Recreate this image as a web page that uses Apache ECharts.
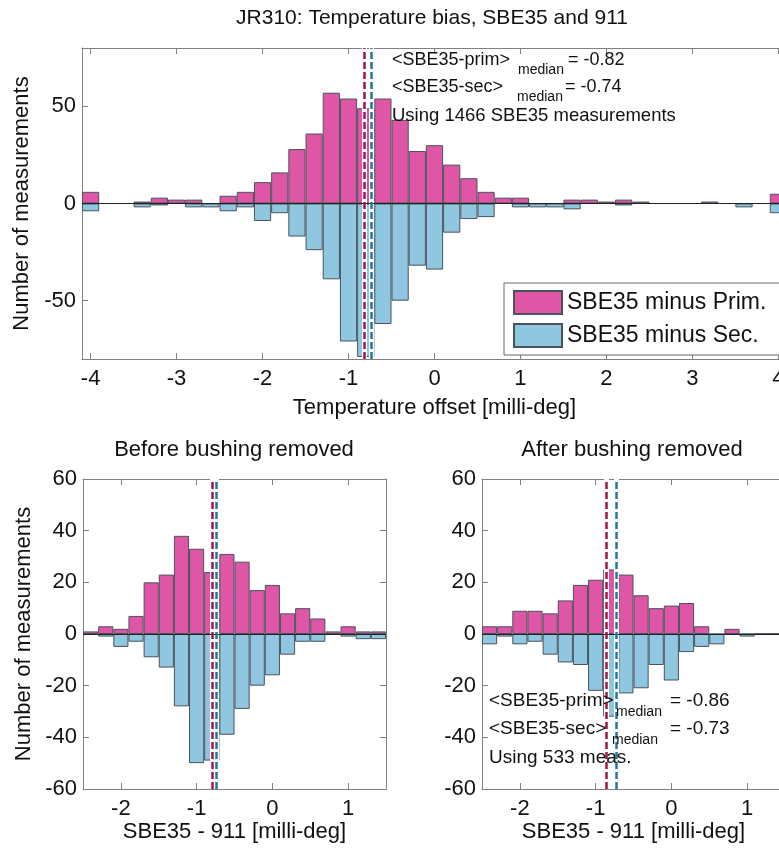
<!DOCTYPE html>
<html>
<head>
<meta charset="utf-8">
<title>JR310 temperature bias</title>
<script src="https://cdn.jsdelivr.net/npm/echarts@6/dist/echarts.min.js"></script>
<style>
  html, body { margin: 0; padding: 0; background: #fff; }
  #chart { width: 779px; height: 852px; }
</style>
</head>
<body>
<div id="chart"></div>
<script>
// top histogram: all stations, bin centres every 0.2 milli-deg
const topBins = [-4.0, -3.8, -3.6, -3.4, -3.2, -3.0, -2.8, -2.6, -2.4, -2.2, -2.0, -1.8, -1.6, -1.4, -1.2, -1.0, -0.8, -0.6, -0.4, -0.2,
  0.0, 0.2, 0.4, 0.6, 0.8, 1.0, 1.2, 1.4, 1.6, 1.8, 2.0, 2.2, 2.4, 2.6, 2.8, 3.0, 3.2, 3.4, 3.6, 3.8, 4.0]
const topPrim = [6, 0, 0, 1, 3, 2, 2, 0, 4, 6, 11, 16, 28, 36, 57, 54, 49, 54, 43, 27,
  30, 20, 13, 6, 3, 3, 0, 0, 2, 2, 1, 2, 1, 0, 0, 0, 1, 0, 0, 0, 5]
const topSec = [-4, 0, 0, -2, -1, 0, -2, -2, -4, -2, -9, -5, -17, -24, -39, -71, -79, -62, -50, -32,
  -34, -15, -8, -7, 0, -2, -2, -2, -3, 0, 0, -1, 0, 0, 0, 0, 0, 0, -2, 0, -5]
const topMedian = [-0.82, -0.74]

// bottom histograms
const subBins = [-2.4, -2.2, -2.0, -1.8, -1.6, -1.4, -1.2, -1.0, -0.8, -0.6, -0.4, -0.2, 0.0, 0.2, 0.4, 0.6, 0.8, 1.0, 1.2, 1.4]
const beforePrim = [1, 3, 2, 7, 20, 23, 38, 33, 24, 31, 28, 17, 19, 8, 10, 6, 1, 3, 1, 1]
const beforeSec = [0, -1, -5, -3, -9, -13, -28, -50, -49, -39, -29, -20, -16, -8, -3, -3, 0, -1, -2, -2]
const beforeMedian = [-0.79, -0.74]
const afterPrim = [3, 3, 9, 9, 8, 13, 19, 21, 25, 23, 15, 10, 11, 12, 3, 0, 2, 0, 0, 0]
const afterSec = [-4, -1, -4, -3, -8, -11, -12, -22, -32, -23, -21, -12, -18, -7, -5, -4, 0, -1, 0, 0]
const afterMedian = [-0.86, -0.73]

const topXTicks = [-4, -3, -2, -1, 0, 1, 2, 3, 4]
const topYTicks = [-50, 0, 50]
const subXTicks = [-2, -1, 0, 1]

const FONT = 'Liberation Sans, Arial, sans-serif'
const PINK = '#e056a7'
const BLUE = '#8fc6e0'
const EDGE = '#4a535c'
const FRAME = '#808080'
const RED_DASH = '#a3134e'
const BLUE_DASH = '#1f76a6'

const chart = echarts.init(document.getElementById('chart'))

function axisBase(gi, min, max, position) {
  return {
    type: 'value', gridIndex: gi, min: min, max: max, position: position,
    splitLine: { show: false },
    axisLine: { show: true, onZero: false, lineStyle: { color: FRAME, width: 1 } },
    axisTick: { show: true, inside: true, length: 6, lineStyle: { color: FRAME } },
    axisLabel: { show: false }
  }
}

function makeX(gi, min, max, ticks, name, nameGap) {
  const bottom = axisBase(gi, min, max, 'bottom')
  bottom.axisTick.customValues = ticks
  bottom.axisLabel = { show: true, customValues: ticks, color: '#111', fontSize: 22, fontFamily: FONT, margin: 9 }
  bottom.name = name
  bottom.nameLocation = 'middle'
  bottom.nameGap = nameGap
  bottom.nameTextStyle = { color: '#111', fontSize: 22, fontFamily: FONT }
  const top = axisBase(gi, min, max, 'top')
  top.axisTick.customValues = ticks
  return [bottom, top]
}

function makeY(gi, min, max, ticks, interval, name) {
  const left = axisBase(gi, min, max, 'left')
  const right = axisBase(gi, min, max, 'right')
  if (ticks) {
    left.axisTick.customValues = ticks
    right.axisTick.customValues = ticks
    left.axisLabel = { show: true, customValues: ticks, color: '#111', fontSize: 22, fontFamily: FONT, margin: 6 }
  } else {
    left.interval = interval
    right.interval = interval
    left.axisLabel = { show: true, color: '#111', fontSize: 22, fontFamily: FONT, margin: 6 }
  }
  if (name) {
    left.name = name
    left.nameLocation = 'middle'
    left.nameGap = 48
    left.nameTextStyle = { color: '#111', fontSize: 22, fontFamily: FONT }
  }
  return [left, right]
}

function makeSeries(gi, bins, prim, sec, med) {
  const common = {
    type: 'bar', xAxisIndex: gi * 2, yAxisIndex: gi * 2,
    barWidth: '100%', barGap: '-100%', animation: false
  }
  return [
    Object.assign({}, common, {
      name: 'SBE35 minus Prim.',
      data: bins.map((b, i) => [b, prim[i]]),
      itemStyle: { color: PINK, borderColor: EDGE, borderWidth: 1 },
      markLine: {
        silent: true, symbol: 'none', z: 5, animation: false, label: { show: false },
        data: [
          { xAxis: med[0], lineStyle: { color: '#fff', width: 5, type: 'solid' } },
          { xAxis: med[1], lineStyle: { color: '#fff', width: 5, type: 'solid' } },
          { yAxis: 0, lineStyle: { color: '#222', width: 1, type: 'solid' } }
        ]
      }
    }),
    Object.assign({}, common, {
      name: 'SBE35 minus Sec.',
      data: bins.map((b, i) => [b, sec[i]]),
      itemStyle: { color: BLUE, borderColor: EDGE, borderWidth: 1 },
      markLine: {
        silent: true, symbol: 'none', z: 6, animation: false, label: { show: false },
        data: [
          { xAxis: med[0], lineStyle: { color: RED_DASH, width: 2.5, type: [7, 3] } },
          { xAxis: med[1], lineStyle: { color: BLUE_DASH, width: 2.5, type: [7, 3] } }
        ]
      }
    })
  ]
}

function txt(x, y, s, size, align) {
  return {
    type: 'text', silent: true, z: 100,
    style: { x: x, y: y, text: s, fill: '#111', font: size + 'px ' + FONT, textAlign: align || 'left', textVerticalAlign: 'middle' }
  }
}

const xAxes = [].concat(
  makeX(0, -4.1, 4.1, topXTicks, 'Temperature offset [milli-deg]', 38),
  makeX(1, -2.5, 1.5, subXTicks, 'SBE35 - 911 [milli-deg]', 31),
  makeX(2, -2.5, 1.5, subXTicks, 'SBE35 - 911 [milli-deg]', 31)
)
const yAxes = [].concat(
  makeY(0, -80, 80, topYTicks, null, 'Number of measurements'),
  makeY(1, -60, 60, null, 20, 'Number of measurements'),
  makeY(2, -60, 60, null, 20, null)
)

const option = {
  animation: false,
  backgroundColor: '#fff',
  grid: [
    { left: 82, top: 48, width: 705, height: 311, containLabel: false, outerBoundsMode: 'none' },
    { left: 83, top: 479, width: 303, height: 310, containLabel: false, outerBoundsMode: 'none' },
    { left: 482, top: 479, width: 303, height: 310, containLabel: false, outerBoundsMode: 'none' }
  ],
  legend: {
    data: ['SBE35 minus Prim.', 'SBE35 minus Sec.'],
    icon: 'rect',
    orient: 'vertical', left: 504, top: 283,
    padding: [7, 30, 7, 9], itemWidth: 48, itemHeight: 23, itemGap: 8,
    backgroundColor: '#fff', borderColor: '#666', borderWidth: 1,
    selectedMode: false,
    textStyle: { color: '#111', fontSize: 23, fontFamily: FONT }
  },
  xAxis: xAxes,
  yAxis: yAxes,
  series: [].concat(
    makeSeries(0, topBins, topPrim, topSec, topMedian),
    makeSeries(1, subBins, beforePrim, beforeSec, beforeMedian),
    makeSeries(2, subBins, afterPrim, afterSec, afterMedian)
  ),
  graphic: [
    txt(432, 18, 'JR310: Temperature bias, SBE35 and 911', 21, 'center'),
    txt(234, 450, 'Before bushing removed', 22, 'center'),
    txt(632, 450, 'After bushing removed', 22, 'center'),
    // top annotation
    txt(392, 60, '<SBE35-prim>', 18),
    txt(518, 70, 'median', 14),
    txt(568, 60, '= -0.82', 18),
    txt(392, 87, '<SBE35-sec>', 18),
    txt(517, 97, 'median', 14),
    txt(565, 87, '= -0.74', 18),
    txt(392, 116, 'Using 1466 SBE35 measurements', 18.5),
    // bottom right annotation
    txt(489, 701, '<SBE35-prim>', 19),
    txt(616, 712, 'median', 14),
    txt(670, 701, '= -0.86', 19),
    txt(489, 729, '<SBE35-sec>', 19),
    txt(612, 740, 'median', 14),
    txt(670, 729, '= -0.73', 19),
    txt(489, 758, 'Using 533 meas.', 19)
  ]
}

chart.setOption(option)
</script>
</body>
</html>
